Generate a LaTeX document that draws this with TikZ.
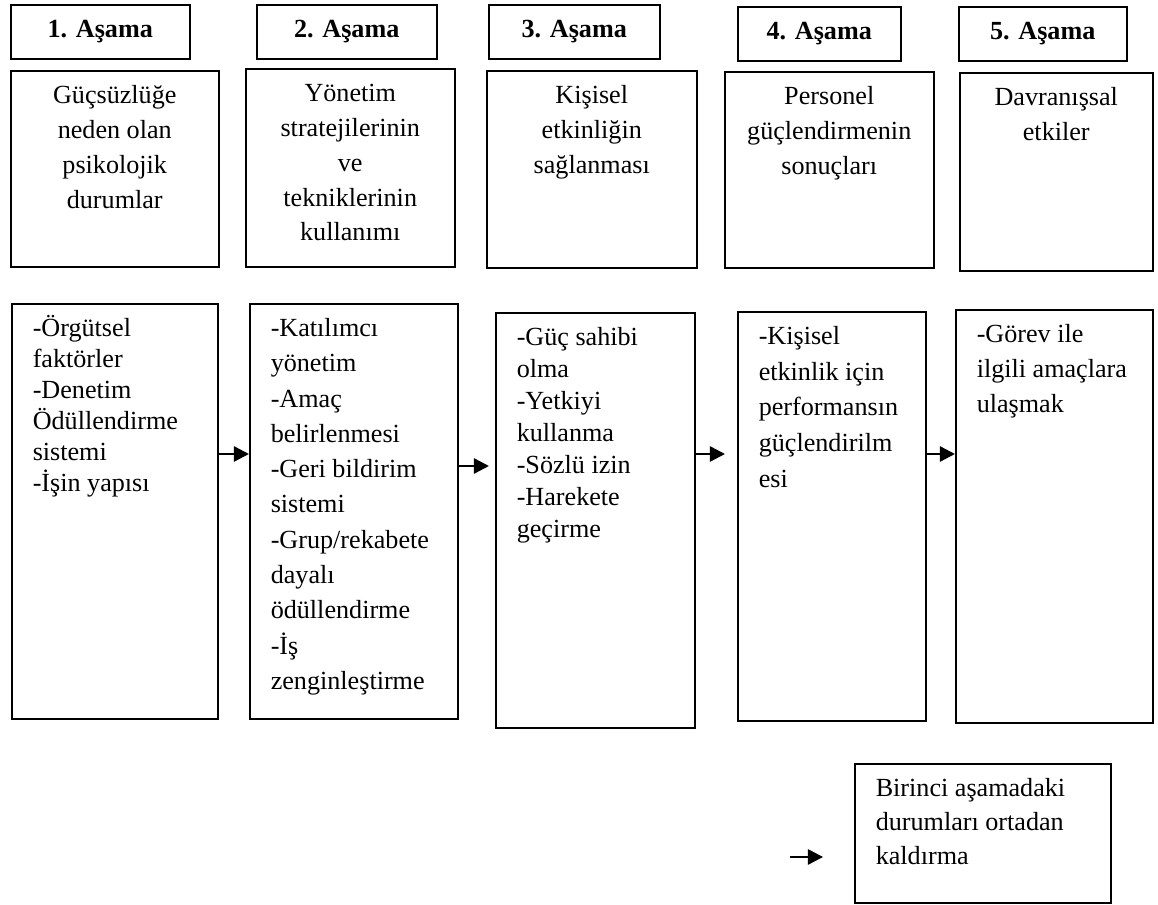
\documentclass[tikz,border=0pt]{standalone}
\usepackage{fontspec}
\setmainfont{Liberation Serif}
\usetikzlibrary{arrows.meta,calc}

\newlength\pxu
\setlength\pxu{0.459pt}
% top aligned text in a box: width, height, line skip, text
\newcommand\midtext[3]{\parbox[t][#2\pxu][t]{#1\pxu}{\fontsize{12}{16}\selectfont\centering\rule{0pt}{15pt}#3}}
\newcommand\listtext[4]{\parbox[t][#2\pxu][t]{#1\pxu}{\fontsize{12}{#3}\selectfont\raggedright\leftskip=21\pxu\rule{0pt}{15pt}#4}}

\begin{document}
\begin{tikzpicture}[
  x=0.459pt, y=-0.459pt,
  stage/.style={draw, line width=0.7pt, anchor=north west, inner sep=0pt, font=\fontsize{12}{14}\selectfont\bfseries},
  panel/.style={draw, line width=0.7pt, anchor=north west, inner sep=0pt},
  arr/.style={-{Triangle[length=7pt, width=7pt]}, line width=1.1pt}
]
\useasboundingbox (0,0) rectangle (1158,905);

% stage titles
\node[stage, minimum width=179*\pxu, minimum height=54*\pxu] (h1) at (10,4) {1. Aşama};
\node[stage, minimum width=180*\pxu, minimum height=54*\pxu] (h2) at (256,4) {2. Aşama};
\node[stage, minimum width=171*\pxu, minimum height=54*\pxu] (h3) at (488,4) {3. Aşama};
\node[stage, minimum width=163*\pxu, minimum height=54*\pxu] (h4) at (737,6) {4. Aşama};
\node[stage, minimum width=168*\pxu, minimum height=54*\pxu] (h5) at (958,6) {5. Aşama};

% what each stage is about
\node[panel] (m1) at (10,70) {\midtext{208}{196}{Güçsüzlüğe\\neden olan\\psikolojik\\durumlar}};
\node[panel] (m2) at (245,68) {\midtext{209}{198}{Yönetim\\stratejilerinin\\ve\\tekniklerinin\\kullanımı}};
\node[panel] (m3) at (486,70) {\midtext{210}{197}{Kişisel\\etkinliğin\\sağlanması}};
\node[panel] (m4) at (724,71) {\midtext{209}{196}{Personel\\güçlendirmenin\\sonuçları}};
\node[panel] (m5) at (959,72) {\midtext{193}{198}{Davranışsal\\etkiler}};

% details of each stage
\node[panel] (b1) at (11,303) {\listtext{206}{415}{14.2pt}{-Örgütsel\\faktörler\\-Denetim\\Ödüllendirme\\sistemi\\-İşin yapısı}};
\node[panel] (b2) at (249,303) {\listtext{208}{415}{16.2pt}{-Katılımcı\\yönetim\\-Amaç\\belirlenmesi\\-Geri bildirim\\sistemi\\-Grup/rekabete\\dayalı\\ödüllendirme\\-İş\\zenginleştirme}};
\node[panel] (b3) at (495,312) {\listtext{199}{415}{14.7pt}{-Güç sahibi\\olma\\-Yetkiyi\\kullanma\\-Sözlü izin\\-Harekete\\geçirme}};
\node[panel] (b4) at (737,311) {\listtext{188}{409}{16.4pt}{-Kişisel\\etkinlik için\\performansın\\güçlendirilm\\esi}};
\node[panel] (b5) at (955,309) {\listtext{197}{413}{16pt}{-Görev ile\\ilgili amaçlara\\ulaşmak}};

\node[panel] (goal) at (854,763) {\listtext{256}{139}{15.6pt}{Birinci aşamadaki\\durumları ortadan\\kaldırma}};

% arrows between the stages
\coordinate (a12) at ($(b1.north east)+(0,151)$);
\coordinate (a23) at ($(b2.north east)+(0,163)$);
\coordinate (a34) at ($(b3.north east)+(0,142)$);
\coordinate (a45) at ($(b4.north east)+(0,143)$);
\coordinate (a0) at (790,857);
\draw[arr] (a12) -- (a12 -| b2.west);
\draw[arr, shorten >=2.75pt] (a23) -- (a23 -| b3.west);
\draw[arr, shorten >=5.5pt] (a34) -- (a34 -| b4.west);
\draw[arr] (a45) -- (a45 -| b5.west);
\draw[arr, shorten >=14.2pt] (a0) -- (a0 -| goal.west);

\end{tikzpicture}
\end{document}
